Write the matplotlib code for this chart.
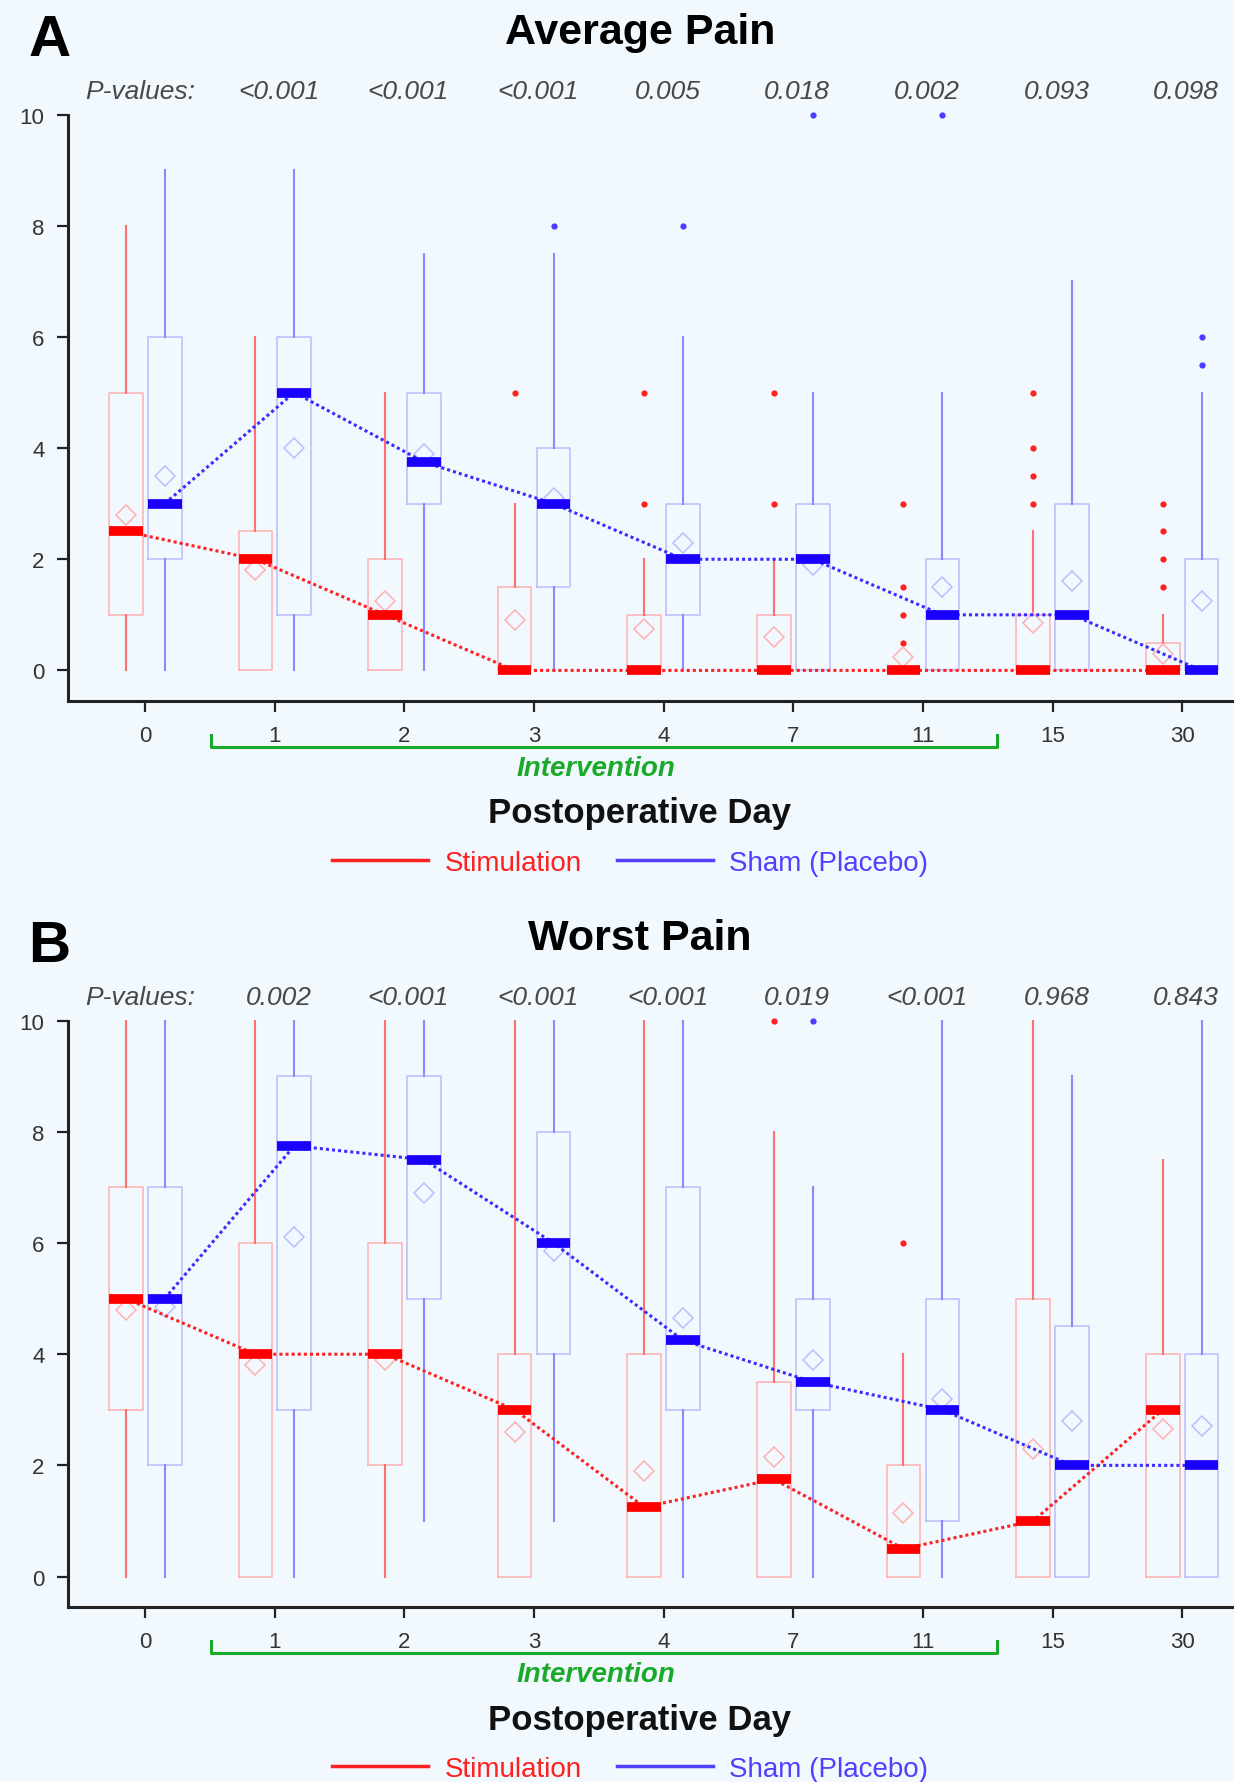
"""Average / worst pain box plots, stimulation vs sham, by postoperative day."""

import matplotlib
matplotlib.use("Agg")
import matplotlib.pyplot as plt
from matplotlib.lines import Line2D
from matplotlib.transforms import blended_transform_factory

plt.rcParams["font.family"] = ["Liberation Sans", "DejaVu Sans"]

DAYS = ["0", "1", "2", "3", "4", "7", "11", "15", "30"]

# Panel A: average pain
AVG_STIM_LO = [0, 0, 0, 0, 0, 0, 0, 0, 0]
AVG_STIM_Q1 = [1, 0, 0, 0, 0, 0, 0, 0, 0]
AVG_STIM_MED = [2.5, 2, 1, 0, 0, 0, 0, 0, 0]
AVG_STIM_Q3 = [5, 2.5, 2, 1.5, 1, 1, 0, 1, 0.5]
AVG_STIM_HI = [8, 6, 5, 3, 2, 2, 0, 2.5, 1]
AVG_STIM_MEAN = [2.8, 1.8, 1.25, 0.9, 0.75, 0.6, 0.25, 0.85, 0.3]
AVG_STIM_OUT = [[], [], [], [5], [3, 5], [3, 5], [0.5, 1, 1.5, 3],
                [3, 3.5, 4, 5], [1.5, 2, 2.5, 3]]

AVG_SHAM_LO = [0, 0, 0, 0, 0, 0, 0, 0, 0]
AVG_SHAM_Q1 = [2, 1, 3, 1.5, 1, 0, 0, 0, 0]
AVG_SHAM_MED = [3, 5, 3.75, 3, 2, 2, 1, 1, 0]
AVG_SHAM_Q3 = [6, 6, 5, 4, 3, 3, 2, 3, 2]
AVG_SHAM_HI = [9, 9, 7.5, 7.5, 6, 5, 5, 7, 5]
AVG_SHAM_MEAN = [3.5, 4.0, 3.9, 3.1, 2.3, 1.9, 1.5, 1.6, 1.25]
AVG_SHAM_OUT = [[], [], [], [8], [8], [10], [10], [], [5.5, 6]]

AVG_P = ["<0.001", "<0.001", "<0.001", "0.005", "0.018", "0.002", "0.093", "0.098"]

# Panel B: worst pain
WORST_STIM_LO = [0, 0, 0, 0, 0, 0, 0, 0, 0]
WORST_STIM_Q1 = [3, 0, 2, 0, 0, 0, 0, 0, 0]
WORST_STIM_MED = [5, 4, 4, 3, 1.25, 1.75, 0.5, 1, 3]
WORST_STIM_Q3 = [7, 6, 6, 4, 4, 3.5, 2, 5, 4]
WORST_STIM_HI = [10, 10, 10, 10, 10, 8, 4, 10, 7.5]
WORST_STIM_MEAN = [4.8, 3.8, 3.9, 2.6, 1.9, 2.15, 1.15, 2.3, 2.65]
WORST_STIM_OUT = [[], [], [], [], [], [10], [6], [], []]

WORST_SHAM_LO = [0, 0, 1, 1, 0, 0, 0, 0, 0]
WORST_SHAM_Q1 = [2, 3, 5, 4, 3, 3, 1, 0, 0]
WORST_SHAM_MED = [5, 7.75, 7.5, 6, 4.25, 3.5, 3, 2, 2]
WORST_SHAM_Q3 = [7, 9, 9, 8, 7, 5, 5, 4.5, 4]
WORST_SHAM_HI = [10, 10, 10, 10, 10, 7, 10, 9, 10]
WORST_SHAM_MEAN = [4.85, 6.1, 6.9, 5.85, 4.65, 3.9, 3.2, 2.8, 2.7]
WORST_SHAM_OUT = [[], [], [], [], [], [10], [], [], []]

WORST_P = ["0.002", "<0.001", "<0.001", "<0.001", "0.019", "<0.001", "0.968", "0.843"]

BG = "#f1f8fe"
RED = "#ff0000"
BLUE = "#1a00ff"
GREEN = "#1aaa2a"
INK = "#222222"


def make_stats(lo, q1, med, q3, hi, mean, out):
    return [dict(whislo=a, q1=b, med=c, q3=d, whishi=e, mean=f, fliers=g)
            for a, b, c, d, e, f, g in zip(lo, q1, med, q3, hi, mean, out)]


def draw_group(ax, stats, pos, dark, box_c, whisk_c, dot_c, line_c):
    ax.bxp(stats, positions=pos, widths=0.26, showmeans=True, showcaps=False,
           boxprops=dict(color=box_c, linewidth=1.1),
           whiskerprops=dict(color=whisk_c, linewidth=1.5),
           medianprops=dict(color=dark, linewidth=7, solid_capstyle="butt",
                            zorder=5),
           meanprops=dict(marker="D", markersize=10, markerfacecolor="none",
                          markeredgecolor=box_c, markeredgewidth=1.1),
           flierprops=dict(marker="o", markersize=4.5, markerfacecolor=dot_c,
                           markeredgecolor="none"),
           manage_ticks=False)
    meds = [s["med"] for s in stats]
    ax.plot(pos, meds, linestyle=(0, (1, 1)), color=line_c, linewidth=2.2,
            zorder=4)


def draw_panel(ax, letter, title, stim, sham, pvals):
    ax.set_facecolor(BG)
    x = list(range(len(DAYS)))
    draw_group(ax, stim, [i - 0.15 for i in x], RED, "#ffb0b0", "#ff7070",
               "#ff2020", "#ff2020")
    draw_group(ax, sham, [i + 0.15 for i in x], BLUE, "#bcbcff", "#8a8aff",
               "#4a3cff", "#3a2cff")
    for art in ax.lines:
        art.set_clip_on(False)

    ax.set_xlim(-0.596, 8.40)
    ax.set_ylim(-0.55, 10.55)
    ax.set_xticks(x, DAYS)
    ax.set_yticks(range(0, 11, 2))
    for s in ("top", "right"):
        ax.spines[s].set_visible(False)
    ax.spines["left"].set_bounds(-0.55, 10)
    for s in ("left", "bottom"):
        ax.spines[s].set_linewidth(2.2)
        ax.spines[s].set_color(INK)
    ax.tick_params(length=8, width=1.6, color=INK, labelsize=16,
                   labelcolor="#333333", pad=9)

    # p-value row
    ax.text(-0.465, 10.43, "P-values:", ha="left", va="center", fontsize=19,
            style="italic", color="#484848")
    for i, p in enumerate(pvals, start=1):
        ax.text(i + 0.03, 10.43, p, ha="center", va="center", fontsize=19,
                style="italic", color="#484848")

    ax.text(-0.034, 1.071, letter, transform=ax.transAxes, ha="left",
            va="center", fontsize=42, weight="bold")
    ax.text(0.4906, 1.084, title, transform=ax.transAxes, ha="center",
            va="center", fontsize=31, weight="bold")

    # intervention bracket under days 1-11
    tr = blended_transform_factory(ax.transData, ax.transAxes)
    ax.plot([0.51, 0.51, 6.57, 6.57], [-0.055, -0.0746, -0.0746, -0.055],
            color=GREEN, linewidth=2.2, transform=tr, clip_on=False)
    ax.text(3.48, -0.1086, "Intervention", transform=tr, ha="center",
            va="center", fontsize=20, weight="bold", style="italic",
            color=GREEN)
    ax.text(0.4906, -0.1815, "Postoperative Day", transform=ax.transAxes,
            ha="center", va="center", fontsize=25, weight="bold", color="#111111")

    handles = [Line2D([], [], color="#ff2020", linewidth=2.5),
               Line2D([], [], color="#5040ff", linewidth=2.5)]
    ax.legend(handles, ["Stimulation", "Sham (Placebo)"], loc="center",
              bbox_to_anchor=(0.482, -0.2626), ncol=2, frameon=False,
              fontsize=20, handlelength=3.45, handletextpad=0.6,
              columnspacing=1.27, labelcolor="linecolor")


def main():
    fig = plt.figure(figsize=(12.34, 17.83), dpi=100, facecolor=BG)
    ax_a = fig.add_axes([0.0551, 0.6063, 0.9449, 0.346])
    ax_b = fig.add_axes([0.0551, 0.0981, 0.9449, 0.346])

    draw_panel(ax_a, "A", "Average Pain",
               make_stats(AVG_STIM_LO, AVG_STIM_Q1, AVG_STIM_MED, AVG_STIM_Q3,
                          AVG_STIM_HI, AVG_STIM_MEAN, AVG_STIM_OUT),
               make_stats(AVG_SHAM_LO, AVG_SHAM_Q1, AVG_SHAM_MED, AVG_SHAM_Q3,
                          AVG_SHAM_HI, AVG_SHAM_MEAN, AVG_SHAM_OUT),
               AVG_P)
    draw_panel(ax_b, "B", "Worst Pain",
               make_stats(WORST_STIM_LO, WORST_STIM_Q1, WORST_STIM_MED,
                          WORST_STIM_Q3, WORST_STIM_HI, WORST_STIM_MEAN,
                          WORST_STIM_OUT),
               make_stats(WORST_SHAM_LO, WORST_SHAM_Q1, WORST_SHAM_MED,
                          WORST_SHAM_Q3, WORST_SHAM_HI, WORST_SHAM_MEAN,
                          WORST_SHAM_OUT),
               WORST_P)

    fig.savefig("out.png", dpi=100, facecolor=BG)


if __name__ == "__main__":
    main()
